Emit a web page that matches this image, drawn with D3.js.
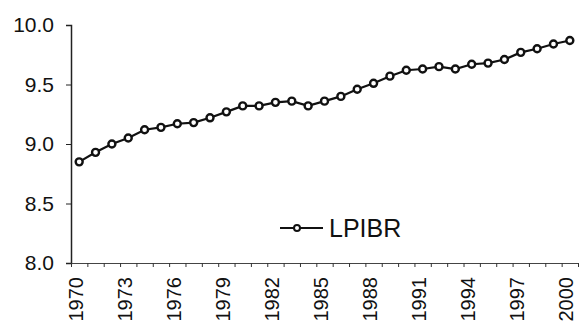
<!DOCTYPE html>
<html>
<head>
<meta charset="utf-8">
<script src="https://cdn.jsdelivr.net/npm/d3@7"></script>
<style>
  body { margin: 0; background: #fff; }
  svg { display: block; }
</style>
</head>
<body>
<div id="chart"></div>
<script>
// LPIBR, 1970-2000
const years = d3.range(1970, 2001);
const lpibr = [
  8.85, 8.93, 9.00, 9.05, 9.12, 9.14, 9.17, 9.18, 9.22, 9.27,
  9.32, 9.32, 9.35, 9.36, 9.32, 9.36, 9.40, 9.46, 9.51, 9.57,
  9.62, 9.63, 9.65, 9.63, 9.67, 9.68, 9.71, 9.77, 9.80, 9.84,
  9.87
];
const yTicks = [8.0, 8.5, 9.0, 9.5, 10.0];
const yearLabels = [1970, 1973, 1976, 1979, 1982, 1985, 1988, 1991, 1994, 1997, 2000];
const seriesName = 'LPIBR';

const width = 579, height = 328;
const plot = { left: 71, right: 578, top: 25, bottom: 263 };
const font = '"Liberation Sans", Arial, sans-serif';

const svg = d3.select('#chart').append('svg')
  .attr('width', width)
  .attr('height', height);

const x = d3.scaleLinear().domain([1969.5, 2000.5]).range([plot.left, plot.right]);
const y = d3.scaleLinear().domain([8, 10]).range([plot.bottom, plot.top]);

// Y axis
svg.append('g')
  .attr('transform', `translate(${plot.left},0)`)
  .call(d3.axisLeft(y).tickValues(yTicks).tickSize(5).tickPadding(12).tickFormat(d3.format('.1f')))
  .call(g => g.select('.domain').attr('stroke', '#222').attr('stroke-width', 1.5))
  .call(g => g.selectAll('.tick line').attr('stroke', '#222'))
  .call(g => g.selectAll('.tick text')
    .style('font-family', font)
    .style('font-size', '21px')
    .attr('fill', '#111'));

// X axis: small ticks at year boundaries
svg.append('g')
  .attr('transform', `translate(0,${plot.bottom})`)
  .call(d3.axisBottom(x).tickValues(d3.range(1969.5, 2001)).tickSize(4).tickSizeOuter(0).tickFormat(''))
  .call(g => g.select('.domain').attr('stroke', '#444'))
  .call(g => g.selectAll('.tick line').attr('stroke', '#333'));

// X labels, rotated
svg.append('g')
  .attr('transform', `translate(0,${plot.bottom})`)
  .call(d3.axisBottom(x).tickValues(yearLabels).tickSize(0).tickFormat(d3.format('d')))
  .call(g => g.select('.domain').remove())
  .call(g => g.selectAll('.tick text')
    .style('font-family', font)
    .style('font-size', '20px')
    .attr('fill', '#111')
    .attr('transform', 'rotate(-90)')
    .attr('text-anchor', 'end')
    .attr('x', -14)
    .attr('y', -4)
    .attr('dy', '0.35em'));

// Series line
const line = d3.line()
  .x((d, i) => x(years[i]))
  .y(d => y(d));

svg.append('path')
  .datum(lpibr)
  .attr('fill', 'none')
  .attr('stroke', '#111')
  .attr('stroke-width', 2.2)
  .attr('d', line);

svg.append('g')
  .selectAll('circle')
  .data(lpibr)
  .join('circle')
  .attr('cx', (d, i) => x(years[i]))
  .attr('cy', d => y(d))
  .attr('r', 3.5)
  .attr('fill', '#fff')
  .attr('stroke', '#111')
  .attr('stroke-width', 2.4);

// Legend
const lg = svg.append('g').attr('transform', 'translate(280,228)');
lg.append('line')
  .attr('x1', 0).attr('x2', 43)
  .attr('stroke', '#111').attr('stroke-width', 2);
lg.append('circle')
  .attr('cx', 17).attr('r', 3)
  .attr('fill', '#fff').attr('stroke', '#111').attr('stroke-width', 2);
lg.append('text')
  .attr('x', 49)
  .attr('dy', '0.36em')
  .style('font-family', font)
  .style('font-size', '25px')
  .attr('fill', '#111')
  .text(seriesName);
</script>
</body>
</html>
